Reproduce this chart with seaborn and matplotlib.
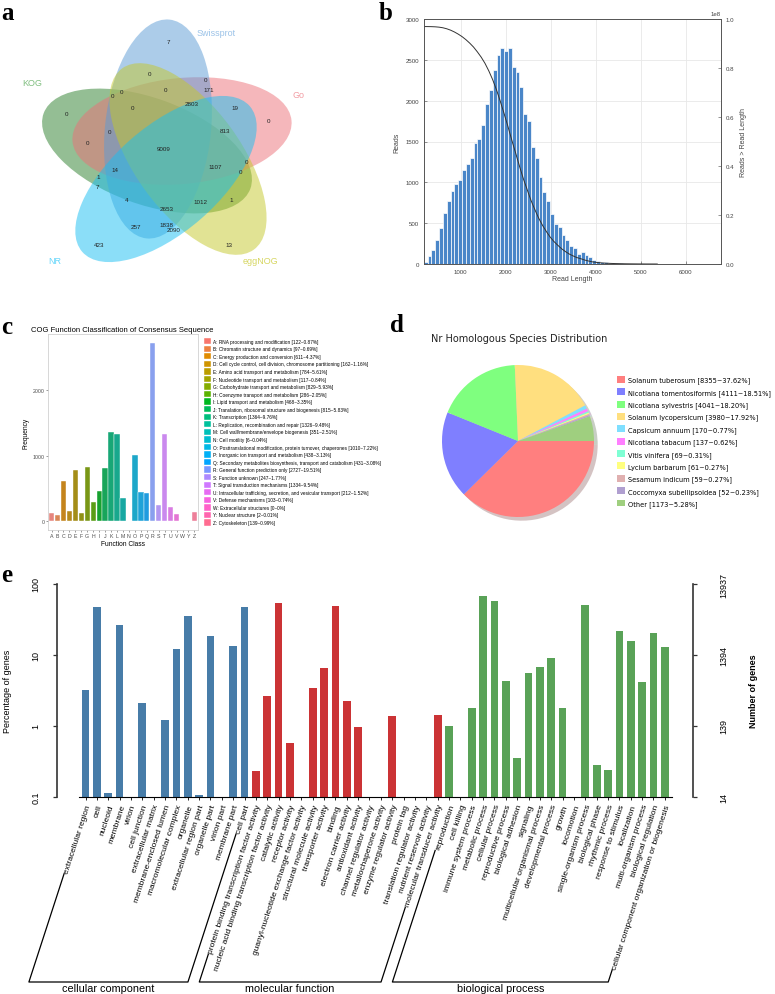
import numpy as np
import pandas as pd
import matplotlib
matplotlib.use('Agg')
import matplotlib.pyplot as plt
from matplotlib.patches import Ellipse, Patch
from matplotlib.lines import Line2D
import seaborn as sns

plt.rcParams['font.family'] = ['Liberation Sans', 'DejaVu Sans']

W, H = 775, 995

# ---------------- data ----------------
# a: Venn diagram of annotation databases
venn_names = ['KOG', 'Go', 'Swissprot', 'eggNOG', 'NR']
venn_counts = [7, 0, 0, 171, 0, 0, 0, 2803, 19, 0, 0, 0, 0, 813, 0, 9009,
               1107, 0, 0, 14, 1, 7, 4, 2653, 1012, 1, 257, 1838, 2090, 423, 13]

# b: read length distribution
read_len_counts = [20, 100, 175, 295, 440, 630, 775, 900, 975, 1030, 1150, 1230,
                   1295, 1480, 1525, 1700, 1960, 2125, 2375, 2560, 2640, 2605,
                   2645, 2415, 2350, 2165, 1840, 1745, 1435, 1300, 1060, 885,
                   775, 610, 485, 450, 350, 300, 220, 195, 125, 145, 105, 90,
                   55, 40, 30, 20, 15, 12, 9, 7, 5, 4, 3, 3, 2, 2, 1, 1, 1]
read_bin_start = 180
read_bin_width = 85

# c: COG classification
cog_letters = list('ABCDEFGHIJKLMNOPQRSTUVWYZ')
cog_desc = ['RNA processing and modification',
            'Chromatin structure and dynamics',
            'Energy production and conversion',
            'Cell cycle control, cell division, chromosome partitioning',
            'Amino acid transport and metabolism',
            'Nucleotide transport and metabolism',
            'Carbohydrate transport and metabolism',
            'Coenzyme transport and metabolism',
            'Lipid transport and metabolism',
            'Translation, ribosomal structure and biogenesis',
            'Transcription',
            'Replication, recombination and repair',
            'Cell wall/membrane/envelope biogenesis',
            'Cell motility',
            'Posttranslational modification, protein turnover, chaperones',
            'Inorganic ion transport and metabolism',
            'Secondary metabolites biosynthesis, transport and catabolism',
            'General function prediction only',
            'Function unknown',
            'Signal transduction mechanisms',
            'Intracellular trafficking, secretion, and vesicular transport',
            'Defense mechanisms',
            'Extracellular structures',
            'Nuclear structure',
            'Cytoskeleton']
cog_counts = [122, 97, 611, 162, 784, 117, 829, 286, 468, 815, 1364, 1326, 351,
              6, 1010, 438, 431, 2727, 247, 1334, 212, 103, 0, 2, 139]
cog_pct = ['0.87', '0.69', '4.37', '1.16', '5.61', '0.84', '5.93', '2.05', '3.35',
           '5.83', '9.76', '9.48', '2.51', '0.04', '7.22', '3.13', '3.08', '19.51',
           '1.77', '9.54', '1.52', '0.74', '0', '0.01', '0.99']

# d: Nr homologous species
species = ['Solanum tuberosum', 'Nicotiana tomentosiformis', 'Nicotiana sylvestris',
           'Solanum lycopersicum', 'Capsicum annuum', 'Nicotiana tabacum',
           'Vitis vinifera', 'Lycium barbarum', 'Sesamum indicum',
           'Coccomyxa subellipsoidea', 'Other']
species_counts = [8355, 4111, 4041, 3980, 170, 137, 69, 61, 59, 52, 1173]
species_pct = ['37.62', '18.51', '18.20', '17.92', '0.77', '0.62', '0.31', '0.27',
               '0.27', '0.23', '5.28']
species_colors = ['#FF7F7F', '#7F7FFF', '#7FFF7F', '#FFDF7F', '#7FDFFF', '#FF7FFF',
                  '#7FFFD4', '#FFFF7F', '#E0B0B0', '#B09FD0', '#9FCF7F']

# e: GO classification
cc_terms = ['extracellular region', 'cell', 'nucleoid', 'membrane', 'virion',
            'cell junction', 'extracellular matrix', 'membrane-enclosed lumen',
            'macromolecular complex', 'organelle', 'extracellular region part',
            'organelle part', 'virion part', 'membrane part', 'cell part']
cc_pct = [3.2, 47.2, 0.115, 26.4, 0, 2.12, 0, 1.2, 12.3, 35.4, 0.108, 18.6, 0, 13.6, 47.2]
mf_terms = ['protein binding transcription factor activity',
            'nucleic acid binding transcription factor activity',
            'catalytic activity', 'receptor activity',
            'guanyl-nucleotide exchange factor activity',
            'structural molecule activity', 'transporter activity', 'binding',
            'electron carrier activity', 'antioxidant activity',
            'channel regulator activity', 'metallochaperone activity',
            'enzyme regulator activity', 'protein tag',
            'translation regulator activity', 'nutrient reservoir activity',
            'molecular transducer activity']
mf_pct = [0.236, 2.68, 53.7, 0.578, 0, 3.38, 6.55, 49.3, 2.28, 0.98, 0, 0, 1.40,
          0, 0, 0, 1.41]
bp_terms = ['reproduction', 'cell killing', 'immune system process',
            'metabolic process', 'cellular process', 'reproductive process',
            'biological adhesion', 'signaling', 'multicellular organismal process',
            'developmental process', 'growth', 'locomotion',
            'single-organism process', 'biological phase', 'rhythmic process',
            'response to stimulus', 'localization', 'multi-organism process',
            'biological regulation', 'cellular component organization or biogenesis']
bp_pct = [1.0, 0, 1.79, 68.1, 58.5, 4.35, 0.354, 5.58, 6.78, 9.0, 1.82, 0, 49.9,
          0.279, 0.243, 22.1, 15.7, 4.17, 20.3, 12.9]
go_groups = ['cellular component', 'molecular function', 'biological process']
go_total_genes = 13937


def fbox(x0, y0, x1, y1):
    # pixel box (top-left origin) -> figure fraction rect
    return [x0 / W, 1 - y1 / H, (x1 - x0) / W, (y1 - y0) / H]


def ftxt(x, y, s, **kw):
    fig.text(x / W, 1 - y / H, s, **kw)


def hcl_color(h, c=100, l=65):
    # ggplot2 style hue colour (polar Luv -> sRGB)
    xn, yn, zn = 95.047, 100.0, 108.883
    un = 4 * xn / (xn + 15 * yn + 3 * zn)
    vn = 9 * yn / (xn + 15 * yn + 3 * zn)
    u = c * np.cos(np.deg2rad(h))
    v = c * np.sin(np.deg2rad(h))
    y = yn * ((l + 16) / 116) ** 3
    up = u / (13 * l) + un
    vp = v / (13 * l) + vn
    x = y * 9 * up / (4 * vp)
    z = y * (12 - 3 * up - 20 * vp) / (4 * vp)
    m = np.array([[3.2406, -1.5372, -0.4986],
                  [-0.9689, 1.8758, 0.0415],
                  [0.0557, -0.2040, 1.0570]])
    rgb = m @ (np.array([x, y, z]) / 100)
    rgb = np.where(rgb <= 0.0031308, 12.92 * rgb,
                   1.055 * np.abs(rgb) ** (1 / 2.4) - 0.055)
    return tuple(np.clip(rgb, 0, 1))


fig = plt.figure(figsize=(W / 100, H / 100), dpi=100)

# ---------------- a: Venn ----------------
venn_shapes = {
    'Swissprot': ((158, 130), 110, 53, 84, '#5B9BD5', (216, 33), '#9CC3E8'),
    'Go': ((182, 132), 110, 53, 5.5, '#EC7078', (299, 96), '#F29CA3'),
    'eggNOG': ((188, 160), 112, 53, -54, '#C4C82A', (260, 262), '#D6D660'),
    'NR': ((166, 180), 111, 53, 41, '#19BFF2', (55, 262), '#66D6FA'),
    'KOG': ((147, 152), 110, 53, -20, '#2A7F2A', (32, 84), '#80BF80'),
}
venn_pos = [(168, 43), (150, 74), (206, 81), (209, 90), (113, 96), (122, 93),
            (166, 91), (192, 104), (235, 109), (67, 115), (133, 108), (269, 122),
            (110, 133), (225, 132), (88, 144), (164, 150), (215, 168), (247, 163),
            (241, 173), (115, 171), (98, 178), (97, 188), (127, 201), (167, 210),
            (200, 203), (231, 201), (136, 228), (166, 226), (174, 231), (99, 246),
            (229, 246)]

axa = fig.add_axes(fbox(0, 0, 390, 290))
axa.set_xlim(0, 390)
axa.set_ylim(290, 0)
axa.axis('off')
for name in venn_names:
    (cx, cy), a, b, ang, col, lpos, lcol = venn_shapes[name]
    axa.add_patch(Ellipse((cx, cy), 2 * a, 2 * b, angle=-ang,
                          facecolor=col, edgecolor='none', alpha=0.5))
    axa.text(lpos[0], lpos[1], name, color=lcol, fontsize=6.5,
             ha='center', va='center')
for (x, y), c in zip(venn_pos, venn_counts):
    axa.text(x, y, str(c), fontsize=4.5, ha='center', va='center', color='#222222')

# ---------------- b: read length ----------------
counts = np.array(read_len_counts)
edges = read_bin_start + read_bin_width * np.arange(len(counts) + 1)
centers = edges[:-1] + read_bin_width / 2
bases_above = np.concatenate([[np.sum(counts * centers)],
                              np.sum(counts * centers) - np.cumsum(counts * centers)])
read_df = pd.DataFrame({'length': centers, 'reads': counts})
curve_df = pd.DataFrame({'length': edges, 'bases': bases_above})

axb = fig.add_axes(fbox(424, 20, 721, 265))
sns.histplot(data=read_df, x='length', weights='reads', bins=len(counts),
             binrange=(edges[0], edges[-1]), ax=axb,
             color='#4A86C8', edgecolor='white', linewidth=0.5, alpha=1.0, zorder=2)
axb.set_xlim(185, 6780)
axb.set_ylim(0, 3000)
axb.set_yticks(np.arange(0, 3001, 500))
axb.set_xticks(np.arange(1000, 6001, 1000))
axb.grid(True, color='#e8e8e8', lw=0.6, zorder=0)
axb.set_axisbelow(True)
axb.set_xlabel('Read Length', fontsize=5, color='#444444', labelpad=1)
axb.set_ylabel('Reads', fontsize=5, color='#444444', labelpad=4)
axb.tick_params(labelsize=4.4, colors='#444444', direction='in', length=2, width=0.4)
axb2 = axb.twinx()
sns.lineplot(data=curve_df, x='length', y='bases', ax=axb2, color='#333333', lw=0.7)
axb2.set_ylim(0, 1e8)
axb2.set_yticks(np.linspace(0, 1e8, 6))
axb2.set_ylabel('Reads > Read Length', fontsize=5, color='#444444', labelpad=4)
axb2.tick_params(labelsize=4.4, colors='#444444', direction='in', length=2, width=0.4)
axb2.yaxis.get_offset_text().set_fontsize(4.4)
axb2.yaxis.get_offset_text().set_color('#444444')
for ax in (axb, axb2):
    for sp in ax.spines.values():
        sp.set_color('#555555')
        sp.set_linewidth(0.6)

# ---------------- c: COG ----------------
cog_colors = [hcl_color(h) for h in np.linspace(15, 375, len(cog_letters) + 1)[:-1]]
cog_df = pd.DataFrame({'letter': cog_letters, 'count': cog_counts})
axc = fig.add_axes(fbox(48, 335, 198, 531))
sns.barplot(data=cog_df, x='letter', y='count', hue='letter', order=cog_letters,
            palette=cog_colors, legend=False, width=0.9, errorbar=None,
            edgecolor='white', linewidth=0.3, ax=axc)
axc.set_xlim(-0.6, len(cog_letters) - 0.4)
axc.set_ylim(-136, 2863)
axc.set_yticks([0, 1000, 2000])
axc.set_xlabel('Function Class', fontsize=4.8, labelpad=1)
axc.set_ylabel('Frequency', fontsize=4.8, labelpad=2)
axc.tick_params(labelsize=3.8, colors='#4d4d4d', length=1.5, width=0.4, pad=1)
for sp in axc.spines.values():
    sp.set_color('#c8c8c8')
    sp.set_linewidth(0.5)
ftxt(122, 331, 'COG Function Classification of Consensus Sequence', fontsize=5.5,
     ha='center', va='center')
cog_handles = [Patch(facecolor=c, edgecolor='white', linewidth=0.3) for c in cog_colors]
cog_labels = [f'{l}: {d} [{n}~{p}%]' for l, d, n, p in
              zip(cog_letters, cog_desc, cog_counts, cog_pct)]
fig.legend(cog_handles, cog_labels, loc='upper left',
           bbox_to_anchor=(204 / W, 1 - 339 / H), frameon=False, fontsize=3.4,
           handlelength=1.5, handleheight=1.7, labelspacing=0.25,
           handletextpad=0.4, borderpad=0, borderaxespad=0)

# ---------------- d: pie ----------------
axd = fig.add_axes(fbox(518 - 86, 442 - 86, 518 + 86, 442 + 86))
wedges, _ = axd.pie(species_counts, colors=species_colors, startangle=0,
                    counterclock=False, wedgeprops=dict(linewidth=0),
                    shadow=dict(ox=0.035, oy=-0.035, shade=0.55, alpha=0.3))
axd.set_xlim(-86 / 76, 86 / 76)
axd.set_ylim(-86 / 76, 86 / 76)
axd.set_aspect('equal')
ftxt(519, 339, 'Nr Homologous Species Distribution', fontsize=7,
     family='DejaVu Sans', ha='center', va='center', color='#222222')
sp_labels = [f'{s} [{n}~{p}%]' for s, n, p in zip(species, species_counts, species_pct)]
fig.legend(wedges, sp_labels, loc='upper left', bbox_to_anchor=(617 / W, 1 - 377 / H),
           frameon=False, prop={'family': 'DejaVu Sans', 'size': 4.8},
           handlelength=1.2, handleheight=1.2, labelspacing=0.74,
           handletextpad=0.45, borderpad=0, borderaxespad=0)

# ---------------- e: GO ----------------
go_terms = cc_terms + mf_terms + bp_terms
go_df = pd.DataFrame({
    'term': go_terms,
    'pct': cc_pct + mf_pct + bp_pct,
    'group': [go_groups[0]] * len(cc_terms) + [go_groups[1]] * len(mf_terms)
             + [go_groups[2]] * len(bp_terms),
})
go_palette = {go_groups[0]: '#377EB8', go_groups[1]: '#E41A1C', go_groups[2]: '#4DAF4A'}

axe = fig.add_axes(fbox(57, 585, 693, 798))
sns.barplot(data=go_df[go_df['pct'] > 0], x='term', y='pct', hue='group',
            order=go_terms, hue_order=go_groups, palette=go_palette, dodge=False,
            width=0.68, errorbar=None, legend=False, linewidth=0, ax=axe)
axe.set_yscale('log')
axe.set_ylim(0.1, 100)
axe.set_xlim(-2.51, 53.48)
axe.minorticks_off()
axe.set_yticks([0.1, 1, 10, 100])
axe.set_yticklabels(['0.1', '1', '10', '100'], rotation=90, va='center')
axe.set_xticks(range(len(go_terms)))
axe.set_xticklabels(go_terms, rotation=72, ha='right', va='top',
                    rotation_mode='anchor', fontsize=6)
axe.tick_params(axis='y', labelsize=6.5, length=3, width=0.9, pad=9, color='#333333')
axe.tick_params(axis='x', length=2.5, width=0.6, pad=2)
axe.set_xlabel('')
axe.set_ylabel('')
axe.spines['top'].set_visible(False)
axe.spines['right'].set_visible(False)
axe.spines['left'].set_bounds(0.1, 100)
axe.spines['left'].set_linewidth(1.2)
axe.spines['left'].set_color('#333333')
axe.spines['bottom'].set_bounds(-0.6, len(go_terms) - 0.4)
axe.spines['bottom'].set_linewidth(0.8)

axe2 = axe.twinx()
axe2.set_yscale('log')
axe2.set_ylim(0.1 * go_total_genes / 100, go_total_genes)
axe2.minorticks_off()
gene_ticks = [go_total_genes * f for f in (0.001, 0.01, 0.1, 1)]
axe2.set_yticks(gene_ticks)
axe2.set_yticklabels([f'{t:.0f}' for t in gene_ticks], rotation=90, va='center')
axe2.tick_params(axis='y', labelsize=6.5, length=3, width=0.9, pad=16, color='#333333')
for s in ('top', 'left', 'bottom'):
    axe2.spines[s].set_visible(False)
axe2.spines['right'].set_bounds(0.1 * go_total_genes / 100, go_total_genes)
axe2.spines['right'].set_linewidth(1.2)
axe2.spines['right'].set_color('#333333')

ftxt(8, 691, 'Percentage of genes', fontsize=6.5, rotation=90, ha='center', va='center')
ftxt(753, 691, 'Number of genes', fontsize=6.5, fontweight='bold', rotation=90,
     ha='center', va='center')

# group brackets under the rotated term labels
fig.canvas.draw()
renderer = fig.canvas.get_renderer()
theta = np.deg2rad(72)
base_y = H - 983
tick_labels = axe.get_xticklabels()


def label_foot(lbl):
    bb = lbl.get_window_extent(renderer)
    s, c = np.sin(theta), np.cos(theta)
    h = (s * bb.width - c * bb.height) / (s * s - c * c)
    xs = bb.x0 + h * s * 0.2 - 2 * c
    ys = bb.y0 + h * c * 0.8 - 2 * s
    xb = xs - (ys - base_y) / np.tan(theta)
    return (xs, ys), (xb, base_y)


start = 0
for grp, n in zip(go_groups, [len(cc_terms), len(mf_terms), len(bp_terms)]):
    (p1, b1) = label_foot(tick_labels[start])
    (p2, b2) = label_foot(tick_labels[start + n - 1])
    xs = np.array([p1[0], b1[0], b2[0], p2[0]]) / W
    ys = np.array([p1[1], b1[1], b2[1], p2[1]]) / H
    fig.add_artist(Line2D(xs, ys, transform=fig.transFigure, color='black', lw=0.9))
    fig.text((b1[0] + b2[0]) / 2 / W, (base_y - 1) / H, grp, fontsize=7.8,
             ha='center', va='top')
    start += n

# panel letters
for letter, (x, y) in zip('abcde', [(7, 13), (386, 13), (7, 327), (397, 326), (7, 576)]):
    ftxt(x, y, letter, fontsize=18, fontweight='bold', family='Liberation Serif',
         ha='center', va='center')

fig.savefig('out.png', dpi=100)
